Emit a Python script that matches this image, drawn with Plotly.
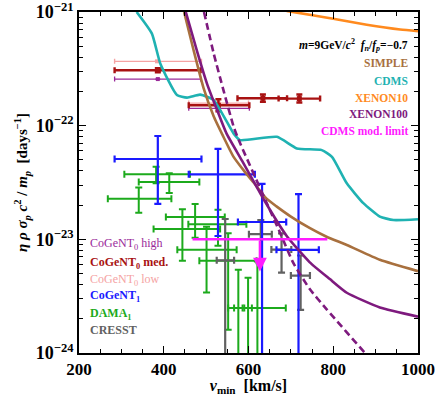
import math

import plotly.graph_objects as go

SERIF = "Liberation Serif"

# ---- exclusion curves (v_min km/s, log10 of eta*rho*sigma_p*c^2/m_p) ----
simple_v = [448, 470, 494, 518, 541, 564, 590, 612, 642, 666, 700, 744, 783, 832, 910, 1000]
simple_log = [-21.0, -21.33, -21.67, -21.92, -22.10, -22.27, -22.40, -22.50, -22.64, -22.71,
              -22.80, -22.90, -22.975, -23.05, -23.18, -23.28]

cdms_v = [336, 372, 392, 431, 455, 486, 518, 565, 580, 667, 714, 773, 797, 832, 871, 910, 942, 1000]
cdms_log = [-21.0, -21.19, -21.455, -21.73, -21.753, -21.727, -21.776, -22.07, -22.127, -22.098,
            -22.2, -22.215, -22.274, -22.507, -22.682, -22.8, -22.83, -22.823]

xe10_v = [690, 722, 800, 879, 958, 1000]
xe10_log = [-20.99, -21.01, -21.06, -21.112, -21.154, -21.168]

xe100_v = [452, 478, 502, 526, 548, 585, 619, 633, 691, 744, 792, 832, 910, 1000]
xe100_log = [-21.0, -21.338, -21.63, -21.864, -22.068, -22.31, -22.536, -22.63, -22.975,
             -23.2, -23.35, -23.47, -23.6, -23.68]

xe100d_v = [495, 518, 541, 565, 577, 643, 675, 706, 745, 785, 875, 890]
xe100d_log = [-21.0, -21.367, -21.689, -22.01, -22.127, -22.68, -22.946, -23.21, -23.44,
              -23.618, -24.0, -24.06]

# CDMS modulation limit
cdms_mod_v = [468, 786]
cdms_mod_y = [1.0e-23, 1.0e-23]
cdms_mod_arrow_v = 627
cdms_mod_arrow_tip = 5.2e-24

# ---- data crosses: centre, v range, value, value range (0 = down to axis) ----
dama_v = [382, 413, 341, 474, 444, 528, 501, 552, 621, 576, 599]
dama_vlo = [307, 341, 268, 405, 376, 458, 432, 484, 552, 566, 590]
dama_vhi = [462, 484, 418, 544, 533, 595, 572, 619, 688, 586, 608]
dama_y = [3.73e-23, 3.2e-23, 2.27e-23, 1.57e-23, 1.23e-23, 1.36e-23, 8.09e-24, 6.47e-24,
          2.49e-24, 2.49e-24, 2.49e-24]
dama_ylo = [3.11e-23, 2.55e-23, 1.71e-23, 1.03e-23, 6.47e-24, 8.77e-24, 3.41e-24, 1.6e-24, 0, 0, 0]
dama_yhi = [4.35e-23, 3.81e-23, 2.86e-23, 2.05e-23, 1.84e-23, 1.82e-23, 1.29e-23, 1.13e-23,
            6.38e-24, 5.4e-24, 4.59e-24]

cresst_v = [545, 629, 678, 723]
cresst_vlo = [525, 601, 654, 700]
cresst_vhi = [566, 655, 701, 745]
cresst_y = [6.53e-24, 1.11e-23, 8.12e-24, 4.8e-24]
cresst_ylo = [0, 6.7e-24, 5.1e-24, 2.4e-24]
cresst_yhi = [1.51e-23, 1.48e-23, 1.13e-23, 7.21e-24]

cogent1_v = [386, 528, 632, 718]
cogent1_vlo = [284, 459, 575, 666]
cogent1_vhi = [489, 615, 689, 766]
cogent1_y = [5.09e-23, 3.73e-23, 1.42e-23, 8.09e-24]
cogent1_ylo = [2.05e-23, 1.07e-23, 0, 0]
cogent1_yhi = [8.11e-23, 6.24e-23, 3.07e-23, 2.5e-23]

cog0_low_v = [384, 529]
cog0_low_vlo = [284, 459]
cog0_low_vhi = [489, 600]
cog0_low_y = [3.68e-22, 1.58e-22]

cog0_high_v = [386, 529]
cog0_high_vlo = [284, 459]
cog0_high_vhi = [487, 602]
cog0_high_y = [2.57e-22, 1.42e-22]

cog0_med_v = [386, 529, 634, 720]
cog0_med_vlo = [284, 459, 574, 671]
cog0_med_vhi = [487, 602, 691, 769]
cog0_med_y = [3.07e-22, 1.51e-22, 1.74e-22, 1.73e-22]
cog0_med_ylo = [2.95e-22, 1.34e-22, 1.62e-22, 1.6e-22]
cog0_med_yhi = [3.2e-22, 1.71e-22, 1.88e-22, 1.88e-22]

C_SIMPLE = "#A8703E"
C_CDMS = "#1FB2B2"
C_XE10 = "#FF8A1E"
C_XE100 = "#7E1A7E"
C_MOD = "#FF1AFF"
C_HIGH = "#9A2A9A"
C_MED = "#A81212"
C_LOW = "#F5A3A3"
C_BLUE = "#1A1AFF"
C_GREEN = "#1CAA1C"
C_GRAY = "#616161"


def curve(v, logs, color, dash="solid"):
    return go.Scatter(x=v, y=[10 ** l for l in logs], mode="lines",
                      line=dict(color=color, width=2.6, dash=dash, shape="spline", smoothing=0.5),
                      showlegend=False, hoverinfo="skip")


def crosses(v, vlo, vhi, y, ylo, yhi, color, thick=2.0, cap=3.5, msize=0):
    ylo = [max(a, 1e-27) for a in ylo]
    return go.Scatter(
        x=v, y=y, mode="markers", showlegend=False,
        marker=dict(size=max(msize, 1), color=color, symbol="square",
                    opacity=1 if msize else 0),
        error_x=dict(type="data", symmetric=False,
                     array=[h - c for h, c in zip(vhi, v)],
                     arrayminus=[c - l for c, l in zip(v, vlo)],
                     color=color, thickness=thick, width=cap),
        error_y=dict(type="data", symmetric=False,
                     array=[h - c for h, c in zip(yhi, y)],
                     arrayminus=[c - l for c, l in zip(y, ylo)],
                     color=color, thickness=thick, width=cap),
    )


fig = go.Figure()
fig.add_trace(crosses(dama_v, dama_vlo, dama_vhi, dama_y, dama_ylo, dama_yhi, C_GREEN))
fig.add_trace(crosses(cresst_v, cresst_vlo, cresst_vhi, cresst_y, cresst_ylo, cresst_yhi, C_GRAY, 2.2))
fig.add_trace(crosses(cogent1_v, cogent1_vlo, cogent1_vhi, cogent1_y, cogent1_ylo, cogent1_yhi, C_BLUE, 2.2))
fig.add_trace(crosses(cog0_low_v, cog0_low_vlo, cog0_low_vhi, cog0_low_y, cog0_low_y, cog0_low_y,
                      C_LOW, 1.4, 2.5, 4))
fig.add_trace(crosses(cog0_high_v, cog0_high_vlo, cog0_high_vhi, cog0_high_y, cog0_high_y, cog0_high_y,
                      C_HIGH, 1.3, 2.5, 4))
fig.add_trace(crosses(cog0_med_v, cog0_med_vlo, cog0_med_vhi, cog0_med_y, cog0_med_ylo, cog0_med_yhi,
                      C_MED, 2.4, 3, 5))

fig.add_trace(curve(cdms_v, cdms_log, C_CDMS))
fig.add_trace(curve(xe10_v, xe10_log, C_XE10))
fig.add_trace(curve(simple_v, simple_log, C_SIMPLE))
fig.add_trace(curve(xe100_v, xe100_log, C_XE100))
fig.add_trace(curve(xe100d_v, xe100d_log, C_XE100, dash="7px,4px"))

fig.add_trace(go.Scatter(x=cdms_mod_v, y=cdms_mod_y, mode="lines",
                         line=dict(color=C_MOD, width=2.5), showlegend=False))
fig.add_annotation(x=cdms_mod_arrow_v, y=math.log10(cdms_mod_arrow_tip),
                   ax=cdms_mod_arrow_v, ay=math.log10(cdms_mod_y[0]), xref="x", yref="y",
                   axref="x", ayref="y", showarrow=True, arrowhead=2, arrowsize=1.1,
                   arrowwidth=2.5, arrowcolor=C_MOD, text="")

# right-hand labels
right_labels = [
    ("<i>m</i>=9GeV/<i>c</i><sup>2</sup>  <i>f<sub>n</sub></i>/<i>f<sub>p</sub></i>=\u22120.7", "black", 0.902),
    ("SIMPLE", C_SIMPLE, 0.849),
    ("CDMS", C_CDMS, 0.798),
    ("XENON10", C_XE10, 0.749),
    ("XENON100", C_XE100, 0.700),
    ("CDMS mod. limit", C_MOD, 0.651),
]
for txt, col, yy in right_labels:
    fig.add_annotation(x=0.977, y=yy, xref="paper", yref="paper", xanchor="right", yanchor="middle",
                       text=txt, showarrow=False, font=dict(family=SERIF, size=11.5, color=col, weight="bold"))

left_labels = [
    ("CoGeNT<sub>0</sub> high", C_HIGH, 0.319, "normal"),
    ("CoGeNT<sub>0</sub> med.", C_MED, 0.265, "bold"),
    ("CoGeNT<sub>0</sub> low", C_LOW, 0.215, "normal"),
    ("CoGeNT<sub>1</sub>", C_BLUE, 0.166, "bold"),
    ("DAMA<sub>1</sub>", C_GREEN, 0.115, "bold"),
    ("CRESST", C_GRAY, 0.066, "bold"),
]
for txt, col, yy, w in left_labels:
    fig.add_annotation(x=0.026, y=yy, xref="paper", yref="paper", xanchor="left", yanchor="middle",
                       text=txt, showarrow=False, font=dict(family=SERIF, size=12, color=col, weight=w))

axis_common = dict(showline=True, linecolor="black", linewidth=1.8, mirror="allticks",
                   ticks="inside", ticklen=7, tickwidth=1.2, tickcolor="black",
                   showgrid=False, zeroline=False, automargin=False, ticklabeloverflow="allow")

fig.update_xaxes(range=[200, 1000], dtick=200, tick0=200,
                 tickfont=dict(family=SERIF, size=17, color="black", weight="bold"),
                 minor=dict(dtick=50, ticks="inside", ticklen=4, tickcolor="black", tickwidth=1),
                 title=dict(text="<b><i>v</i><sub>min</sub>  [km/s]</b>",
                            font=dict(family=SERIF, size=16, color="black"), standoff=9),
                 **axis_common)

fig.update_yaxes(type="log", range=[-24, -21], tickmode="array",
                 tickvals=[1e-24, 1e-23, 1e-22, 1e-21],
                 ticktext=["<b>10<sup>\u221224</sup></b>", "<b>10<sup>\u221223</sup></b>",
                           "<b>10<sup>\u221222</sup></b>", "<b>10<sup>\u221221</sup></b>"],
                 tickfont=dict(family=SERIF, size=18, color="black"),
                 minor=dict(dtick="D1", ticks="inside", ticklen=4, tickcolor="black", tickwidth=1),
                 title=dict(text="<b><i>\u03b7 \u03c1 \u03c3<sub>p</sub> c</i><sup>2</sup> / <i>m<sub>p</sub></i>  [days<sup>\u22121</sup>]</b>",
                            font=dict(family=SERIF, size=15, color="black"), standoff=4),
                 **axis_common)

fig.update_layout(width=436, height=396, autosize=False,
                  margin=dict(l=79, r=18, t=12, b=43),
                  paper_bgcolor="white", plot_bgcolor="white")

fig.write_html("out.html", config={"displayModeBar": False},
               post_script="document.body.style.margin='0';document.body.style.overflow='hidden';")
